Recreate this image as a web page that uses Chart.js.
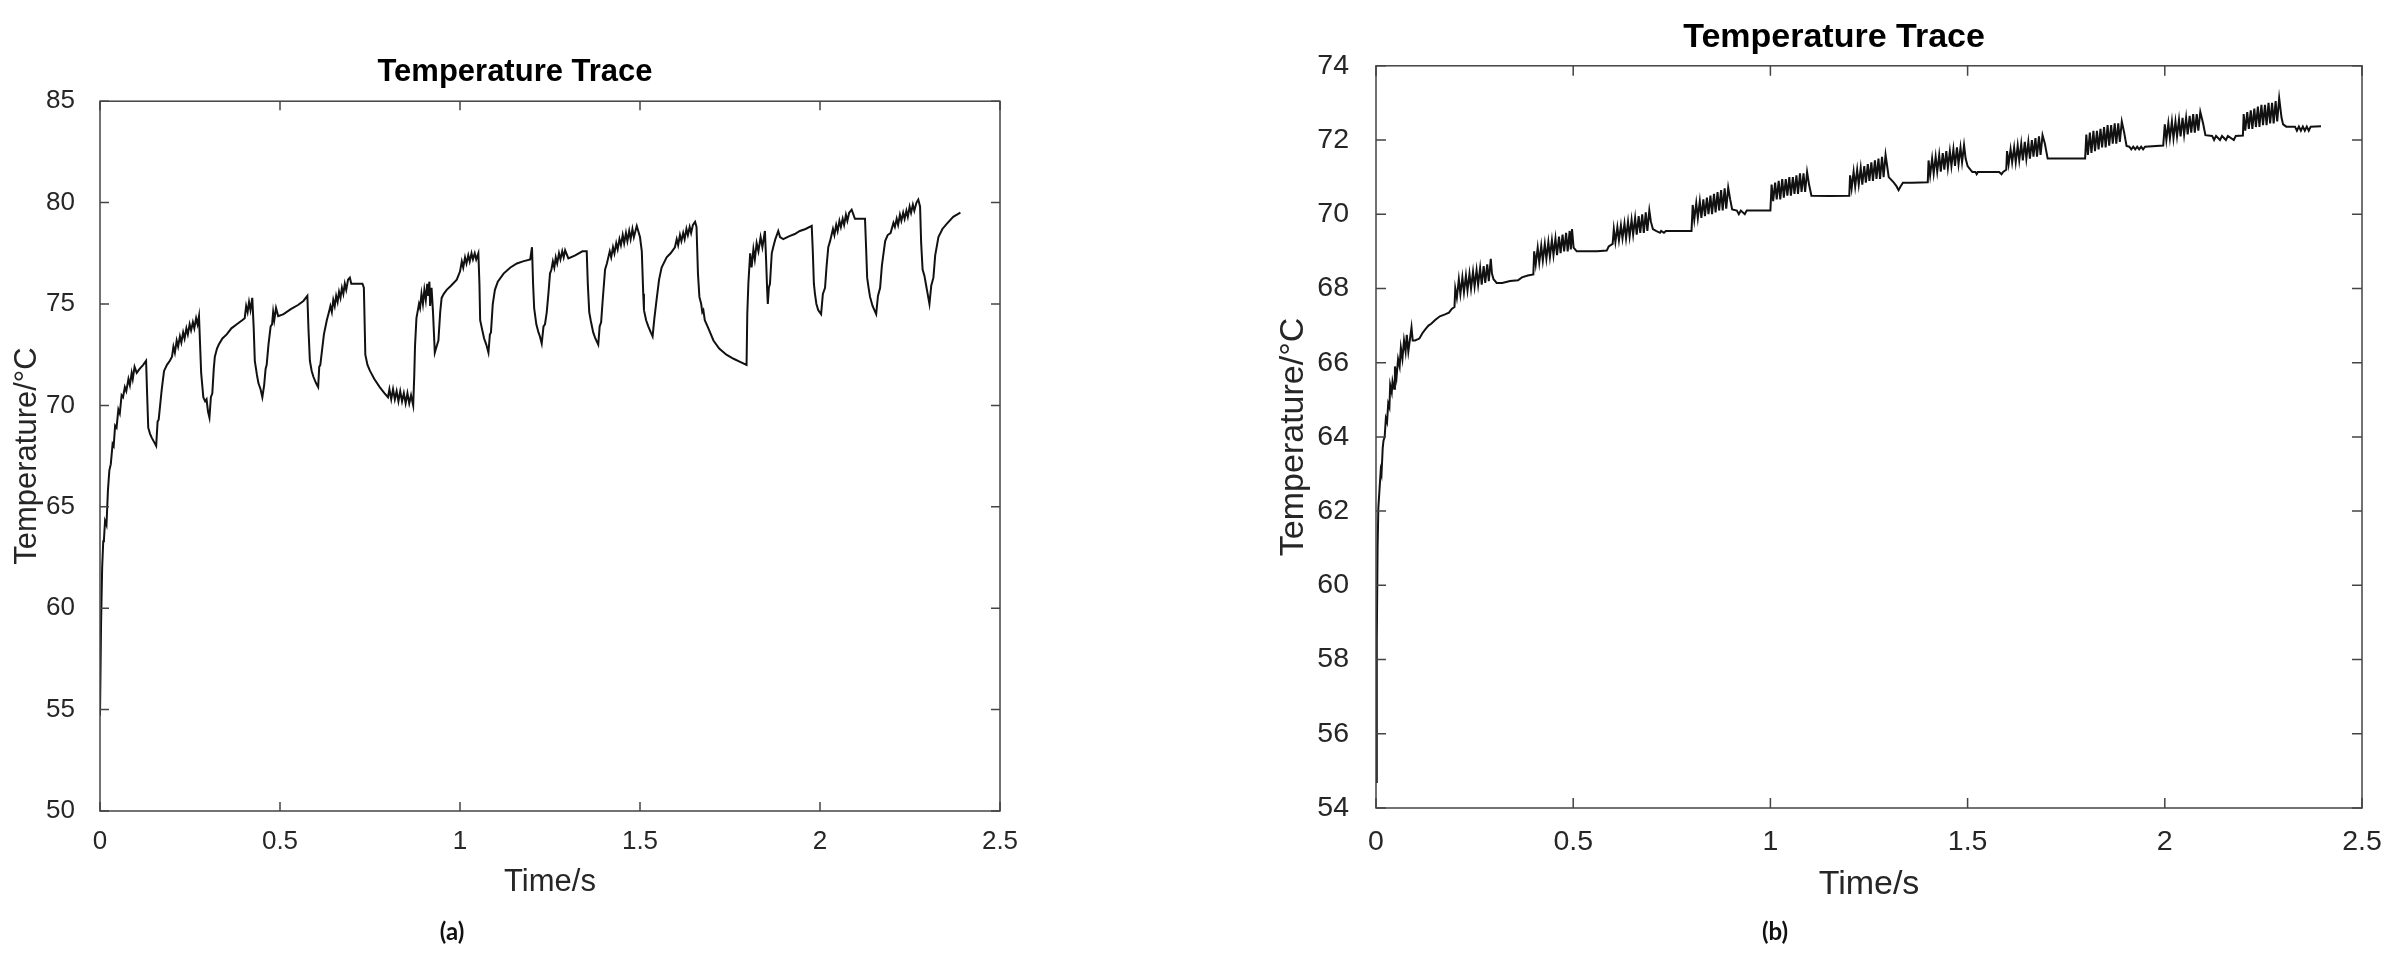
<!DOCTYPE html>
<html>
<head>
<meta charset="utf-8">
<title>Temperature Trace</title>
<script src="https://cdn.jsdelivr.net/npm/chart.js@4.4.1/dist/chart.umd.min.js"></script>
<style>
  html, body { margin: 0; padding: 0; background: #fff; overflow: hidden; }
  body { width: 2400px; height: 975px; position: relative; }
  canvas { position: absolute; top: 0; }
  #chartA { left: 0; }
  #chartB { left: 1268px; }
  .caption {
    position: absolute;
    font-family: Lato, 'Open Sans', sans-serif;
    font-weight: bold;
    font-size: 24px;
    color: #111;
    transform: translate(-50%, -50%);
  }
</style>
</head>
<body>
<canvas id="chartA" width="1030" height="975"></canvas>
<canvas id="chartB" width="1132" height="975"></canvas>
<div class="caption" style="left:452px; top:930px">(a)</div>
<div class="caption" style="left:1775px; top:930px">(b)</div>
<script>
// axis ranges
const timeRange = [0, 2.5, 0.5];
const tempRangeA = [50, 85, 5];
const tempRangeB = [54, 74, 2];

// (a) temperature trace, [time s, temperature °C]
const traceA = [
  [0, 54.7], [0.003, 59.3], [0.006, 62.0], [0.009, 63.3], [0.011, 63.4], [0.014, 64.3], [0.018, 64.1],
  [0.022, 65.8], [0.026, 66.8], [0.030, 67.1], [0.035, 68.1], [0.038, 68.0], [0.042, 69.0], [0.046, 68.9],
  [0.051, 69.8], [0.055, 69.6], [0.060, 70.5], [0.064, 70.4], [0.069, 70.9], [0.073, 70.7], [0.079, 71.3],
  [0.083, 71.0], [0.088, 71.6], [0.091, 71.3], [0.096, 71.9], [0.102, 71.6], [0.110, 71.8], [0.120, 72.0],
  [0.128, 72.2],
  [0.131, 70.5], [0.134, 68.9], [0.139, 68.6], [0.144, 68.4], [0.150, 68.2], [0.156, 68.0],
  [0.160, 69.2], [0.163, 69.3], [0.167, 70.0], [0.171, 70.7], [0.175, 71.3], [0.178, 71.7], [0.186, 72.0],
  [0.194, 72.2], [0.200, 72.4], [0.204, 72.9],
  [0.208, 72.6], [0.213, 73.2], [0.217, 72.9], [0.222, 73.4], [0.226, 73.1], [0.231, 73.6], [0.235, 73.3],
  [0.240, 73.8], [0.244, 73.5], [0.249, 74.0], [0.253, 73.7], [0.258, 74.1], [0.262, 73.8], [0.267, 74.3],
  [0.271, 74.0], [0.275, 74.4],
  [0.278, 73.0], [0.281, 71.6], [0.287, 70.4], [0.292, 70.2], [0.296, 70.3], [0.300, 69.7], [0.304, 69.4],
  [0.308, 70.4], [0.312, 70.6], [0.316, 71.8], [0.319, 72.4], [0.325, 72.8], [0.330, 73.0], [0.340, 73.3],
  [0.352, 73.5], [0.365, 73.8], [0.380, 74.0], [0.395, 74.2], [0.402, 74.3],
  [0.406, 74.9], [0.410, 74.6], [0.414, 75.1], [0.418, 74.7], [0.423, 75.3],
  [0.427, 73.8], [0.430, 72.2], [0.436, 71.5], [0.440, 71.1], [0.446, 70.8], [0.451, 70.4],
  [0.456, 71.0], [0.460, 71.8], [0.463, 72.0], [0.468, 73.0], [0.474, 73.9], [0.478, 74.0], [0.481, 74.6],
  [0.484, 74.2], [0.489, 74.8], [0.495, 74.4], [0.510, 74.5], [0.530, 74.75], [0.550, 74.95], [0.565, 75.15],
  [0.576, 75.4],
  [0.579, 73.8], [0.583, 72.2], [0.588, 71.7], [0.593, 71.4], [0.600, 71.1], [0.606, 70.9],
  [0.609, 71.9], [0.612, 72.0], [0.616, 72.6], [0.622, 73.5], [0.630, 74.2], [0.636, 74.6],
  [0.640, 74.9], [0.644, 74.6], [0.648, 75.2], [0.652, 74.9], [0.656, 75.4], [0.660, 75.1], [0.664, 75.6],
  [0.668, 75.3], [0.672, 75.8], [0.676, 75.5], [0.680, 76.0], [0.684, 75.7], [0.689, 76.2], [0.694, 76.3],
  [0.698, 76.0], [0.729, 76.0],
  [0.733, 75.8], [0.737, 72.5], [0.743, 72.0], [0.750, 71.7], [0.762, 71.3], [0.777, 70.9], [0.790, 70.6],
  [0.800, 70.4],
  [0.804, 70.8], [0.809, 70.3], [0.814, 70.8], [0.819, 70.3], [0.824, 70.7], [0.829, 70.2], [0.834, 70.7],
  [0.839, 70.2], [0.844, 70.6], [0.849, 70.1], [0.854, 70.6], [0.859, 70.1], [0.864, 70.5], [0.870, 70.0],
  [0.873, 71.5], [0.875, 72.9], [0.879, 74.3], [0.882, 74.6], [0.886, 75.0], [0.889, 74.8], [0.893, 75.5],
  [0.897, 75.0], [0.901, 75.7], [0.905, 75.2], [0.909, 76.0], [0.912, 75.4], [0.915, 76.1], [0.917, 74.9],
  [0.921, 75.8],
  [0.925, 74.6], [0.930, 72.6], [0.935, 72.9], [0.940, 73.2],
  [0.945, 74.6], [0.949, 75.3], [0.955, 75.5], [0.963, 75.7], [0.975, 75.9], [0.991, 76.2], [1.000, 76.6],
  [1.005, 77.1], [1.009, 76.8], [1.014, 77.3], [1.018, 77.0], [1.023, 77.4], [1.027, 77.1], [1.032, 77.5],
  [1.036, 77.2], [1.041, 77.5], [1.045, 77.2], [1.051, 77.5],
  [1.054, 76.0], [1.056, 74.2], [1.062, 73.7], [1.067, 73.3], [1.073, 73.0], [1.079, 72.6],
  [1.083, 73.5], [1.086, 73.6], [1.091, 75.0], [1.097, 75.7], [1.105, 76.1], [1.121, 76.5], [1.140, 76.8],
  [1.158, 77.0], [1.175, 77.1], [1.195, 77.2], [1.200, 77.8],
  [1.203, 76.0], [1.206, 74.8], [1.212, 74.0], [1.218, 73.6], [1.222, 73.4], [1.227, 73.05],
  [1.232, 73.9], [1.236, 74.0], [1.241, 74.6], [1.246, 75.6], [1.250, 76.5], [1.254, 76.7],
  [1.258, 77.1], [1.262, 76.8], [1.266, 77.3], [1.270, 77.0], [1.275, 77.5], [1.279, 77.2], [1.284, 77.6],
  [1.288, 77.3], [1.292, 77.65], [1.301, 77.25], [1.320, 77.4], [1.340, 77.6], [1.352, 77.6],
  [1.355, 76.0], [1.359, 74.6], [1.363, 74.2], [1.370, 73.6], [1.376, 73.3], [1.384, 73.0],
  [1.388, 73.9], [1.392, 74.1], [1.396, 75.1], [1.403, 76.7], [1.408, 77.0], [1.412, 77.3],
  [1.416, 77.6], [1.420, 77.3], [1.425, 77.8], [1.429, 77.5], [1.434, 78.0], [1.438, 77.7], [1.443, 78.2],
  [1.447, 77.9], [1.452, 78.4], [1.456, 78.0], [1.461, 78.5], [1.465, 78.1], [1.470, 78.6], [1.474, 78.2],
  [1.479, 78.7], [1.483, 78.3], [1.491, 78.85], [1.500, 78.3], [1.505, 77.6],
  [1.509, 75.5], [1.511, 74.7], [1.517, 74.2], [1.523, 73.9], [1.530, 73.6], [1.535, 73.4],
  [1.540, 74.3], [1.546, 75.2], [1.553, 76.2], [1.560, 76.8], [1.574, 77.3], [1.585, 77.5], [1.597, 77.8],
  [1.602, 78.2], [1.606, 77.9], [1.611, 78.4], [1.615, 78.1], [1.620, 78.5], [1.624, 78.2], [1.629, 78.7],
  [1.633, 78.4], [1.638, 78.8], [1.642, 78.5], [1.647, 78.9], [1.653, 79.05], [1.657, 78.8],
  [1.661, 76.5], [1.665, 75.35], [1.670, 75.0], [1.673, 74.6], [1.676, 74.7], [1.680, 74.2], [1.690, 73.8],
  [1.704, 73.2], [1.720, 72.8], [1.740, 72.5], [1.760, 72.3], [1.778, 72.15], [1.796, 72.0],
  [1.798, 74.5], [1.801, 76.0], [1.806, 77.5], [1.810, 76.8], [1.815, 77.7], [1.819, 77.2], [1.824, 78.0],
  [1.829, 77.6], [1.835, 78.3], [1.840, 77.8], [1.847, 78.6], [1.850, 77.3],
  [1.853, 75.8], [1.855, 75.0], [1.858, 75.8], [1.861, 76.0], [1.866, 77.5], [1.870, 77.8], [1.876, 78.2],
  [1.880, 78.4], [1.884, 78.6], [1.889, 78.3], [1.898, 78.2], [1.915, 78.35], [1.930, 78.45], [1.944, 78.6],
  [1.960, 78.7], [1.977, 78.85],
  [1.980, 77.6], [1.983, 76.0], [1.986, 75.5], [1.990, 75.0], [1.995, 74.7], [2.003, 74.5],
  [2.008, 75.5], [2.014, 75.8], [2.018, 76.8], [2.023, 77.8], [2.028, 78.1], [2.032, 78.4],
  [2.036, 78.7], [2.040, 78.4], [2.045, 78.9], [2.049, 78.6], [2.054, 79.1], [2.058, 78.8], [2.063, 79.2],
  [2.067, 78.9], [2.072, 79.4], [2.076, 79.1], [2.081, 79.5], [2.088, 79.65], [2.097, 79.2], [2.125, 79.2],
  [2.128, 77.8], [2.131, 76.3], [2.135, 75.8], [2.139, 75.35], [2.146, 74.9], [2.156, 74.5],
  [2.161, 75.4], [2.167, 75.8], [2.172, 76.9], [2.181, 78.1], [2.188, 78.4], [2.196, 78.5], [2.204, 79.0],
  [2.208, 78.8], [2.213, 79.2], [2.217, 78.9], [2.222, 79.4], [2.226, 79.1], [2.231, 79.5], [2.235, 79.2],
  [2.240, 79.6], [2.244, 79.3], [2.249, 79.8], [2.253, 79.5], [2.258, 79.9], [2.262, 79.6], [2.268, 80.0],
  [2.273, 80.15], [2.278, 79.8],
  [2.281, 78.0], [2.285, 76.7], [2.290, 76.4], [2.294, 76.0], [2.299, 75.5], [2.304, 75.0],
  [2.309, 75.9], [2.315, 76.3], [2.320, 77.4], [2.329, 78.3], [2.340, 78.7], [2.352, 78.95], [2.370, 79.3],
  [2.390, 79.5]
];

// (b) temperature trace
const traceB = [
  [0, 54.7], [0.002, 58.5], [0.004, 61.0], [0.006, 62.1], [0.009, 62.6], [0.012, 63.1], [0.014, 63.0],
  [0.017, 63.7], [0.019, 63.9], [0.022, 64.0], [0.025, 64.5], [0.028, 64.4], [0.031, 64.9], [0.034, 64.8],
  [0.036, 65.4], [0.040, 65.2], [0.042, 65.5], [0.046, 65.3], [0.048, 65.9], [0.052, 65.6], [0.056, 66.1],
  [0.060, 65.9], [0.063, 66.4], [0.067, 66.1], [0.071, 66.6], [0.075, 66.3], [0.078, 66.75], [0.082, 66.3],
  [0.090, 66.95], [0.093, 66.6],
  [0.099, 66.6], [0.110, 66.65], [0.118, 66.8], [0.125, 66.9], [0.133, 67.0], [0.140, 67.05], [0.150, 67.15],
  [0.162, 67.25], [0.175, 67.3], [0.185, 67.35], [0.192, 67.45], [0.199, 67.5],
  [0.201, 68.0], [0.205, 67.75], [0.210, 68.25], [0.214, 67.85], [0.219, 68.3], [0.223, 67.9], [0.228, 68.35],
  [0.232, 67.95], [0.237, 68.4], [0.241, 68.0], [0.246, 68.45], [0.250, 68.05], [0.255, 68.5], [0.259, 68.1],
  [0.264, 68.55], [0.268, 68.1], [0.273, 68.6], [0.277, 68.15], [0.282, 68.65], [0.286, 68.2], [0.291, 68.8],
  [0.294, 68.4], [0.298, 68.25],
  [0.306, 68.15], [0.320, 68.15], [0.340, 68.2], [0.360, 68.22], [0.370, 68.3], [0.385, 68.35], [0.399, 68.38],
  [0.401, 69.0], [0.405, 68.65], [0.410, 69.1], [0.414, 68.7], [0.419, 69.15], [0.423, 68.75], [0.428, 69.2],
  [0.432, 68.8], [0.437, 69.25], [0.441, 68.85], [0.446, 69.3], [0.450, 68.9], [0.455, 69.35], [0.459, 68.9],
  [0.464, 69.4], [0.468, 68.95], [0.473, 69.45], [0.477, 69.0], [0.482, 69.5], [0.486, 69.0], [0.491, 69.55],
  [0.494, 69.05], [0.497, 69.6], [0.501, 69.1], [0.509, 69.0],
  [0.530, 69.0], [0.560, 69.0], [0.585, 69.02], [0.590, 69.13], [0.600, 69.2],
  [0.603, 69.6], [0.607, 69.25], [0.612, 69.65], [0.616, 69.3], [0.621, 69.7], [0.625, 69.35], [0.630, 69.75],
  [0.634, 69.35], [0.639, 69.8], [0.643, 69.4], [0.648, 69.85], [0.652, 69.45], [0.657, 69.9], [0.661, 69.45],
  [0.666, 69.95], [0.670, 69.5], [0.675, 70.0], [0.679, 69.5], [0.684, 70.05], [0.688, 69.55], [0.693, 70.1],
  [0.697, 69.8], [0.702, 69.6],
  [0.710, 69.55], [0.720, 69.5], [0.723, 69.55], [0.730, 69.5], [0.735, 69.55], [0.750, 69.55], [0.800, 69.55],
  [0.803, 70.25], [0.807, 69.85], [0.812, 70.3], [0.816, 69.9], [0.821, 70.35], [0.825, 69.9], [0.830, 70.4],
  [0.834, 69.95], [0.839, 70.45], [0.843, 70.0], [0.848, 70.5], [0.852, 70.0], [0.857, 70.55], [0.861, 70.05],
  [0.866, 70.6], [0.870, 70.1], [0.875, 70.65], [0.879, 70.1], [0.884, 70.7], [0.888, 70.15], [0.893, 70.72],
  [0.898, 70.4], [0.903, 70.13],
  [0.915, 70.1], [0.920, 70.0], [0.925, 70.1], [0.935, 70.0], [0.940, 70.1], [0.960, 70.1], [1.000, 70.1],
  [1.003, 70.8], [1.007, 70.35], [1.012, 70.85], [1.016, 70.4], [1.021, 70.9], [1.025, 70.4], [1.030, 70.95],
  [1.034, 70.45], [1.039, 70.95], [1.043, 70.5], [1.048, 71.0], [1.052, 70.5], [1.057, 71.0], [1.061, 70.55],
  [1.066, 71.05], [1.070, 70.55], [1.075, 71.1], [1.079, 70.6], [1.084, 71.1], [1.088, 70.6], [1.093, 71.14],
  [1.098, 70.8], [1.104, 70.5],
  [1.150, 70.49], [1.200, 70.5],
  [1.202, 71.05], [1.206, 70.7], [1.211, 71.15], [1.215, 70.75], [1.220, 71.2], [1.224, 70.8], [1.229, 71.25],
  [1.233, 70.8], [1.238, 71.3], [1.242, 70.85], [1.247, 71.35], [1.251, 70.9], [1.256, 71.4], [1.260, 70.9],
  [1.265, 71.45], [1.269, 70.95], [1.274, 71.5], [1.278, 70.95], [1.283, 71.55], [1.287, 71.0], [1.292, 71.6],
  [1.296, 71.3], [1.300, 71.0],
  [1.313, 70.85], [1.320, 70.75], [1.325, 70.65], [1.330, 70.75], [1.336, 70.85], [1.360, 70.85], [1.399, 70.86],
  [1.401, 71.45], [1.405, 71.05], [1.410, 71.5], [1.414, 71.1], [1.419, 71.55], [1.423, 71.15], [1.428, 71.6],
  [1.432, 71.15], [1.437, 71.65], [1.441, 71.2], [1.446, 71.7], [1.450, 71.25], [1.455, 71.7], [1.459, 71.3],
  [1.464, 71.75], [1.468, 71.3], [1.473, 71.8], [1.477, 71.35], [1.482, 71.8], [1.486, 71.4], [1.491, 71.86],
  [1.495, 71.5], [1.500, 71.3], [1.507, 71.2],
  [1.512, 71.14], [1.520, 71.14], [1.523, 71.08], [1.526, 71.14], [1.540, 71.14], [1.560, 71.14], [1.580, 71.14],
  [1.586, 71.08], [1.590, 71.14], [1.598, 71.2],
  [1.600, 71.7], [1.604, 71.35], [1.609, 71.75], [1.613, 71.4], [1.618, 71.8], [1.622, 71.4], [1.627, 71.85],
  [1.631, 71.45], [1.636, 71.9], [1.640, 71.45], [1.645, 71.95], [1.649, 71.5], [1.654, 71.95], [1.658, 71.5],
  [1.663, 72.0], [1.667, 71.55], [1.672, 72.05], [1.676, 71.55], [1.681, 72.1], [1.685, 71.6], [1.690, 72.13],
  [1.696, 71.9], [1.703, 71.5],
  [1.750, 71.5], [1.798, 71.5],
  [1.801, 72.15], [1.805, 71.6], [1.810, 72.2], [1.814, 71.65], [1.819, 72.25], [1.823, 71.7], [1.828, 72.25],
  [1.832, 71.75], [1.837, 72.3], [1.841, 71.8], [1.846, 72.35], [1.850, 71.8], [1.855, 72.4], [1.859, 71.85],
  [1.864, 72.4], [1.868, 71.9], [1.873, 72.45], [1.877, 71.9], [1.882, 72.45], [1.886, 71.95], [1.891, 72.5],
  [1.897, 72.2], [1.903, 71.84],
  [1.910, 71.82], [1.915, 71.75], [1.920, 71.82], [1.925, 71.75], [1.930, 71.82], [1.935, 71.75], [1.940, 71.82],
  [1.945, 71.75], [1.950, 71.82], [1.996, 71.85],
  [2.000, 72.42], [2.004, 72.0], [2.009, 72.45], [2.013, 72.05], [2.018, 72.5], [2.022, 72.05], [2.027, 72.5],
  [2.031, 72.1], [2.036, 72.55], [2.040, 72.1], [2.045, 72.6], [2.049, 72.15], [2.054, 72.6], [2.058, 72.15],
  [2.063, 72.65], [2.067, 72.2], [2.072, 72.7], [2.076, 72.2], [2.081, 72.7], [2.085, 72.25], [2.090, 72.76],
  [2.097, 72.45], [2.103, 72.13],
  [2.120, 72.11], [2.125, 72.0], [2.130, 72.11], [2.140, 72.0], [2.145, 72.11], [2.155, 72.0], [2.160, 72.11],
  [2.175, 72.0], [2.180, 72.11], [2.198, 72.12],
  [2.200, 72.7], [2.204, 72.25], [2.209, 72.75], [2.213, 72.3], [2.218, 72.8], [2.222, 72.3], [2.227, 72.85],
  [2.231, 72.35], [2.236, 72.9], [2.240, 72.35], [2.245, 72.95], [2.249, 72.4], [2.254, 72.95], [2.258, 72.4],
  [2.263, 73.0], [2.267, 72.45], [2.272, 73.0], [2.276, 72.45], [2.281, 73.05], [2.285, 72.5], [2.290, 73.13],
  [2.296, 72.6], [2.300, 72.42], [2.308, 72.36],
  [2.330, 72.36], [2.335, 72.25], [2.340, 72.36], [2.345, 72.25], [2.350, 72.36], [2.355, 72.25], [2.360, 72.36],
  [2.365, 72.25], [2.370, 72.36], [2.396, 72.37]
];

const FONT = "'Liberation Sans', Arial, Helvetica, sans-serif";
const AXIS_COLOR = '#444';
const TEXT_COLOR = '#262626';

// matlab style box with inward tick marks on all four sides
const boxTicks = {
  id: 'boxTicks',
  afterDatasetsDraw(chart, args, opts) {
    const { ctx, chartArea: a, scales: { x, y } } = chart;
    const len = opts.len;
    ctx.save();
    ctx.strokeStyle = AXIS_COLOR;
    ctx.lineWidth = 1.5;
    ctx.beginPath();
    x.ticks.forEach(t => {
      const px = x.getPixelForValue(t.value);
      ctx.moveTo(px, a.bottom); ctx.lineTo(px, a.bottom - len);
      ctx.moveTo(px, a.top); ctx.lineTo(px, a.top + len);
    });
    y.ticks.forEach(t => {
      const py = y.getPixelForValue(t.value);
      ctx.moveTo(a.left, py); ctx.lineTo(a.left + len, py);
      ctx.moveTo(a.right, py); ctx.lineTo(a.right - len, py);
    });
    ctx.stroke();
    ctx.strokeRect(a.left, a.top, a.right - a.left, a.bottom - a.top);
    ctx.restore();
  }
};

function makeChart(id, trace, yRange, s) {
  const ctx = document.getElementById(id).getContext('2d');
  return new Chart(ctx, {
    type: 'line',
    data: {
      datasets: [{
        data: trace.map(p => ({ x: p[0], y: p[1] })),
        borderColor: '#111',
        borderWidth: 2,
        pointRadius: 0,
        tension: 0,
        fill: false
      }]
    },
    options: {
      responsive: false,
      animation: false,
      devicePixelRatio: 1,
      layout: { padding: { top: 0, left: 0, right: 0, bottom: s.bottomPad } },
      plugins: {
        legend: { display: false },
        tooltip: { enabled: false },
        title: {
          display: true,
          text: 'Temperature Trace',
          color: '#000',
          font: { family: FONT, size: s.titleSize, weight: 'bold' },
          padding: { top: s.titleTop, bottom: s.titleBottom }
        },
        boxTicks: { len: s.tickLen }
      },
      scales: {
        x: {
          type: 'linear',
          min: timeRange[0],
          max: timeRange[1],
          grid: { display: false },
          border: { display: false },
          ticks: {
            stepSize: timeRange[2],
            color: TEXT_COLOR,
            padding: s.xTickPad,
            maxRotation: 0,
            font: { family: FONT, size: s.tickSize },
            callback: v => String(+v.toFixed(2))
          },
          title: {
            display: true,
            text: 'Time/s',
            color: TEXT_COLOR,
            font: { family: FONT, size: s.labelSize },
            padding: { top: 0, bottom: s.xTitlePad }
          },
          afterFit: sc => { sc.height = s.xHeight; }
        },
        y: {
          min: yRange[0],
          max: yRange[1],
          grid: { display: false },
          border: { display: false },
          ticks: {
            stepSize: yRange[2],
            color: TEXT_COLOR,
            padding: s.yTickPad,
            font: { family: FONT, size: s.tickSize }
          },
          title: {
            display: true,
            text: 'Temperature/°C',
            color: TEXT_COLOR,
            font: { family: FONT, size: s.labelSize },
            padding: { top: s.yTitlePad, bottom: 0 }
          },
          afterFit: sc => { sc.width = s.yWidth; }
        },
        yRight: {
          position: 'right',
          min: yRange[0],
          max: yRange[1],
          grid: { display: false },
          border: { display: false },
          ticks: { display: false },
          afterFit: sc => { sc.width = s.rightWidth; }
        }
      }
    },
    plugins: [boxTicks]
  });
}

makeChart('chartA', traceA, tempRangeA, {
  titleSize: 31, titleTop: 54, titleBottom: 10,
  tickSize: 26, labelSize: 31, tickLen: 9,
  xHeight: 100, xTickPad: 7, xTitlePad: 10, bottomPad: 64,
  yWidth: 100, yTickPad: 17, yTitlePad: 9, rightWidth: 30
});

makeChart('chartB', traceB, tempRangeB, {
  titleSize: 34, titleTop: 17, titleBottom: 8,
  tickSize: 28.5, labelSize: 34, tickLen: 10,
  xHeight: 100, xTickPad: 9, xTitlePad: 3, bottomPad: 67,
  yWidth: 108, yTickPad: 19, yTitlePad: 5, rightWidth: 38
});
</script>
</body>
</html>
